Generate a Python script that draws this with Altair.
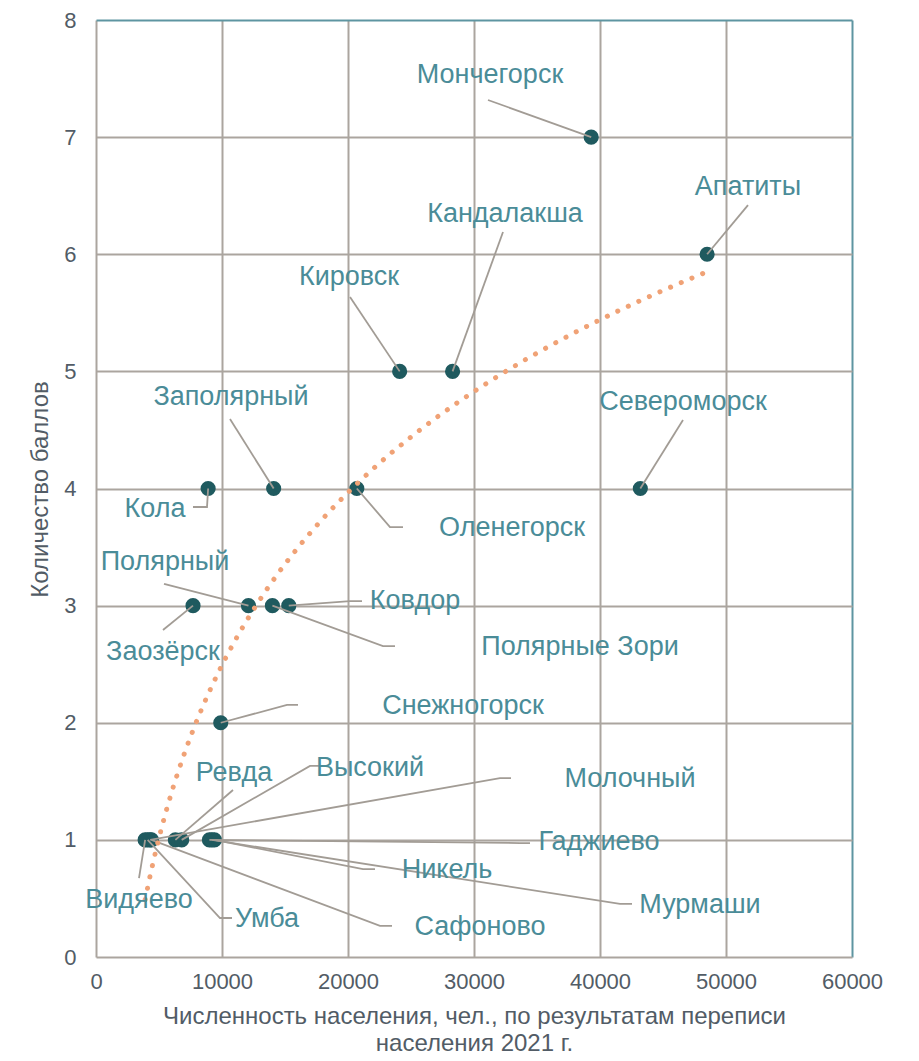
import altair as alt
import pandas as pd

# ---- data ----
cities = ["Мончегорск", "Апатиты", "Кандалакша", "Кировск", "Заполярный", "Кола",
          "Североморск", "Оленегорск", "Полярный", "Заозёрск", "Ковдор", "Полярные Зори",
          "Снежногорск", "Ревда", "Высокий", "Молочный", "Гаджиево", "Никель",
          "Мурмаши", "Сафоново", "Умба", "Видяево"]
population = [39300, 48500, 28300, 24100, 14100, 8900,
              43200, 20700, 12100, 7700, 15300, 14000,
              9900, 6300, 6800, 4300, 9000, 9400,
              9200, 4400, 4100, 3900]
score = [7, 6, 5, 5, 4, 4,
         4, 4, 3, 3, 3, 3,
         2, 1, 1, 1, 1, 1,
         1, 1, 1, 1]

# label anchor positions (data units)
label_x = [31270, 51746, 32460, 20079, 10714, 4683,
           46587, 33016, 5476, 5317, 25317, 38413,
           29127, 10952, 21746, 42381, 39921, 27857,
           47937, 30476, 13571, 3413]
label_y = [7.53, 6.574, 6.344, 5.806, 4.781, 3.825,
           4.739, 3.663, 3.372, 2.604, 3.039, 2.647,
           2.143, 1.571, 1.614, 1.52, 0.982, 0.743,
           0.444, 0.256, 0.324, 0.487]

# leader lines: point -> elbow -> end (data units)
elbow_x = [31111, 51746, 32302, 20159, 10635, 8810,
           46587, 23333, 5397, 5317, 20159, 22778,
           15159, 10873, 16984, 32063, 33651, 21190,
           41587, 22540, 9841, 3413]
elbow_y = [7.317, 6.42, 6.19, 5.635, 4.593, 3.842,
           4.585, 3.671, 3.185, 2.792, 3.039, 2.655,
           2.152, 1.426, 1.631, 1.528, 0.973, 0.751,
           0.453, 0.265, 0.333, 0.674]
end_x = [31111, 51746, 32302, 20159, 10635, 7698,
         46587, 24365, 5397, 5317, 21111, 23730,
         16032, 10873, 17937, 32937, 34444, 22143,
         42540, 23492, 10794, 3413]
end_y = elbow_y

x_ticks = [0, 10000, 20000, 30000, 40000, 50000, 60000]
y_ticks = [0, 1, 2, 3, 4, 5, 6, 7, 8]

points = pd.DataFrame({"city": cities, "pop": population, "score": score,
                       "lx": label_x, "ly": label_y})

rows = []
for i, c in enumerate(cities):
    seq = [(population[i], score[i]), (elbow_x[i], elbow_y[i]), (end_x[i], end_y[i])]
    for k, (xx, yy) in enumerate(seq):
        rows.append({"city": c, "k": k, "x": xx, "y": yy})
leaders = pd.DataFrame(rows)

FONT = "Liberation Sans"
GRID = "#ABA59F"
BORDER = "#5E95A1"
AXIS_TXT = "#525C66"
LABEL = "#4A8C98"
X_TITLE = ["Численность населения, чел., по результатам переписи", "населения 2021 г."]
Y_TITLE = "Количество баллов"

xscale = alt.Scale(domain=[0, 60000], nice=False, zero=True)
yscale = alt.Scale(domain=[0, 8], nice=False, zero=True)

x_axis = alt.Axis(
    values=x_ticks, format="d", grid=True,
    gridColor={"condition": {"test": "datum.value === 60000", "value": BORDER}, "value": GRID},
    gridWidth=2, domain=False, ticks=False, labelFlush=False,
    labelFont=FONT, labelFontSize=22, labelColor=AXIS_TXT, labelPadding=14,
    title=X_TITLE,
    titleFont=FONT, titleFontSize=24, titleFontWeight="normal", titleColor=AXIS_TXT,
    titleBaseline="top", titleY=47, titleLineHeight=27,
)
y_axis = alt.Axis(
    values=y_ticks, grid=True,
    gridColor={"condition": {"test": "datum.value === 8", "value": BORDER}, "value": GRID},
    gridWidth=2, domain=False, ticks=False, labelFlush=False,
    labelFont=FONT, labelFontSize=22, labelColor=AXIS_TXT, labelPadding=20,
    title=Y_TITLE,
    titleFont=FONT, titleFontSize=24, titleFontWeight="normal", titleColor=AXIS_TXT,
    titleX=-56, titleY=469, titleAlign="center", titleBaseline="middle", titleAngle=-90,
)


def X(field):
    return alt.X(field, scale=xscale, axis=x_axis, title=X_TITLE)


def Y(field):
    return alt.Y(field, scale=yscale, axis=y_axis, title=Y_TITLE)


pts = alt.Chart(points).mark_circle(size=230, color="#1F5A5F", opacity=1).encode(
    x=X("pop:Q"), y=Y("score:Q"),
)

lead = alt.Chart(leaders).mark_line(color="#A29C95", strokeWidth=1.8).encode(
    x=X("x:Q"), y=Y("y:Q"),
    detail="city:N",
    order="k:O",
)

trend = alt.Chart(points).transform_regression(
    "pop", "score", method="log"
).mark_line(color="#F0A276", strokeWidth=5, strokeDash=[0.1, 11.5], strokeCap="round").encode(
    x=X("pop:Q"), y=Y("score:Q"),
)

labels = alt.Chart(points).mark_text(
    font=FONT, fontSize=27, color=LABEL, align="center", baseline="middle"
).encode(
    x=X("lx:Q"), y=Y("ly:Q"),
    text="city:N",
)

chart = alt.layer(pts, lead, trend, labels).properties(
    width=756, height=937,
    autosize=alt.AutoSizeParams(type="none"),
    padding={"left": 88, "top": 12, "right": 50, "bottom": 101},
    background="white",
).configure_view(strokeWidth=0)

chart.save("out.html", embed_options={"renderer": "svg", "actions": False})
